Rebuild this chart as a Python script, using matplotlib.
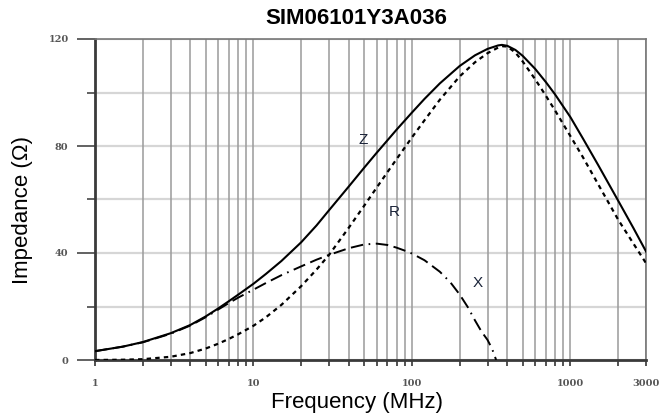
import numpy as np
import matplotlib
matplotlib.use("Agg")
import matplotlib.pyplot as plt
from matplotlib.ticker import FixedLocator, NullFormatter

# values
freq = [1, 1.5, 2, 3, 4, 5, 6, 7, 8, 10, 12, 15, 20, 25, 30, 40, 50, 60, 70,
        80, 100, 120, 150, 200, 250, 300, 350, 370, 400, 450, 500, 600, 700,
        800, 1000, 1200, 1500, 2000, 2500, 3000]
z_vals = [3.3, 5.0, 6.7, 10.0, 13.1, 16.3, 19.3, 22.0, 24.4, 28.5, 32.2, 37.0,
          44.0, 50.3, 56.0, 64.9, 71.9, 77.5, 82.1, 86.1, 92.5, 97.6, 103.4,
          109.9, 113.9, 116.3, 117.6, 117.8, 117.45, 115.9, 113.7, 108.8,
          103.9, 99.3, 90.8, 82.8, 72.8, 59.6, 49.3, 40.6]
r_vals = [0.0, 0.1, 0.3, 1.2, 2.6, 4.3, 6.1, 7.9, 9.6, 12.8, 16.0, 20.6,
          27.6, 33.8, 39.3, 49.5, 57.7, 64.5, 70.2, 75.1, 83.2, 89.6, 97.3,
          106.0, 111.3, 114.7, 116.8, 117.3, 117.2, 114.9, 111.6, 104.9, 98.8,
          93.3, 83.7, 75.8, 65.6, 52.5, 43.5, 36.2]

freq_x = [1, 1.5, 2, 3, 4, 5, 6, 7, 8, 10, 12, 15, 20, 25, 30, 40, 50, 60, 70,
          80, 90, 100, 120, 150, 175, 200, 225, 250, 275, 300, 320, 340]
x_vals = [3.3, 5.0, 6.6, 9.8, 12.9, 16.0, 18.9, 21.3, 23.3, 26.3, 28.8, 31.7,
          35.0, 37.5, 39.3, 41.8, 43.2, 43.5, 43.0, 42.0, 40.9, 39.8, 37.3,
          33.0, 29.0, 24.5, 19.8, 14.8, 10.6, 7.5, 4.3, 0.0]

x_major = [1, 10, 100, 1000, 3000]
x_major_labels = ["1", "10", "100", "1000", "3000"]
x_minor = [m * 10 ** k for k in range(3) for m in range(2, 10)] + [2000]
y_major = [0, 40, 80, 120]
y_minor = [20, 60, 100]

plt.rcParams['lines.scale_dashes'] = False

fig = plt.figure(figsize=(6.62, 4.19), dpi=100)
ax = fig.add_axes([95 / 662, 59 / 419, 551 / 662, 321 / 419])

ax.set_xscale('log')
ax.set_xlim(1, 3000)
ax.set_ylim(0, 120)

# grid
for v in x_minor + x_major:
    ax.axvline(v, color='#9a9a9a', lw=1.1, zorder=1)
for v in y_minor + y_major:
    ax.axhline(v, color='#d6d6d6', lw=1.6, zorder=0.5)

ax.plot(freq, z_vals, color='black', lw=1.5, zorder=3)
ax.plot(freq, r_vals, color='black', lw=1.6, linestyle=(0, (3.2, 3.0)), zorder=3)
ax.plot(freq_x, x_vals, color='black', lw=1.4,
        linestyle=(0, (9, 4, 9, 4, 1.2, 4)), zorder=3)

txt_c = '#1a2338'
for lbl, fx, fy in [('Z', 49, 82.3), ('R', 77, 55.5), ('X', 260, 28.7)]:
    ax.text(fx, fy, lbl, fontsize=11, color=txt_c, ha='center', va='center',
            family='Liberation Sans')

ax.xaxis.set_major_locator(FixedLocator(x_major))
ax.xaxis.set_minor_locator(FixedLocator(x_minor))
ax.set_xticks(x_major, x_major_labels)
ax.xaxis.set_minor_formatter(NullFormatter())
ax.set_yticks(y_major, [str(v) for v in y_major])
ax.yaxis.set_minor_locator(FixedLocator(y_minor))

for lab in ax.get_xticklabels() + ax.get_yticklabels():
    lab.set_fontfamily('DejaVu Serif')
    lab.set_fontweight('bold')
    lab.set_fontsize(7)
    lab.set_color('#555555')

ax.tick_params(axis='x', which='both', direction='out', length=4, width=1.3,
               color='#444444', pad=10)
ax.tick_params(axis='y', which='major', direction='out', length=13, width=1.3,
               color='#555555', pad=6)
ax.tick_params(axis='y', which='minor', direction='out', length=6, width=1.3,
               color='#555555')

for side in ['left', 'bottom']:
    ax.spines[side].set_color('#3a3a3a')
    ax.spines[side].set_linewidth(2.0)
for side in ['top', 'right']:
    ax.spines[side].set_color('#777777')
    ax.spines[side].set_linewidth(1.2)

fig.text(356 / 662, 1 - 19 / 419, 'SIM06101Y3A036', ha='center', va='center',
         fontsize=16, fontweight='bold', family='Liberation Sans')
fig.text(357 / 662, 1 - 402 / 419, 'Frequency (MHz)', ha='center', va='center',
         fontsize=16, family='Liberation Sans')
fig.text(23 / 662, 1 - 210 / 419, 'Impedance (\u03a9)', ha='center', va='center',
         rotation=90, fontsize=16, family='Liberation Sans')

fig.savefig('out.png', dpi=100)
